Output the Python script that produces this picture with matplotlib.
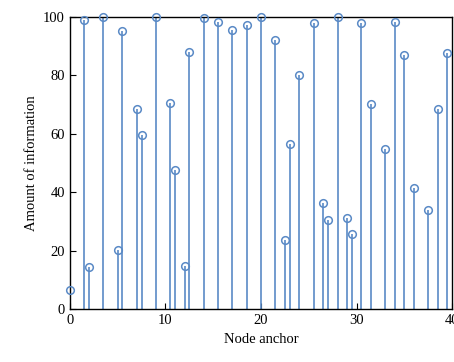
import matplotlib
matplotlib.use('Agg')
import matplotlib.pyplot as plt

# node anchors and amount of information
anchors = [0, 1.5, 2, 3.5, 5, 5.5, 7, 7.5, 9, 10.5, 11, 12, 12.5, 14, 15.5, 17, 18.5,
           20, 21.5, 22.5, 23, 24, 25.5, 26.5, 27, 28, 29, 29.5, 30.5, 31.5, 33, 34,
           35, 36, 37.5, 38.5, 39.5]
information = [6.5, 98.9, 14.3, 100, 20.2, 95.1, 68.5, 59.7, 100, 70.5, 47.6, 14.9, 88.0,
               99.7, 98.4, 95.7, 97.3, 100, 92.0, 23.7, 56.5, 80.0, 97.8, 36.3, 30.4, 100,
               31.1, 25.8, 97.8, 70.3, 54.9, 98.2, 86.9, 41.5, 34.1, 68.5, 87.7]
x_ticks = [0, 10, 20, 30, 40]
y_ticks = [0, 20, 40, 60, 80, 100]

plt.rcParams['font.family'] = 'Liberation Serif'

fig = plt.figure(figsize=(4.54, 3.62), dpi=100)
ax = fig.add_axes([0.154, 0.146, 0.842, 0.807])

color = '#5a8ac6'
markerline, stemlines, baseline = ax.stem(anchors, information)
plt.setp(stemlines, color=color, linewidth=1.2)
plt.setp(markerline, color=color, marker='o', markersize=5.5,
         markerfacecolor='none', markeredgewidth=1.1, clip_on=False, zorder=3)
baseline.set_visible(False)

ax.set_xlim(0, 40)
ax.set_ylim(0, 100)
ax.set_xticks(x_ticks)
ax.set_yticks(y_ticks)
ax.tick_params(direction='in', labelsize=10.5, length=4)
for side in ax.spines.values():
    side.set_linewidth(1.0)

ax.set_xlabel('Node anchor', fontsize=10.5)
ax.set_ylabel('Amount of information', fontsize=10.5)

fig.savefig('out.png', dpi=100)
